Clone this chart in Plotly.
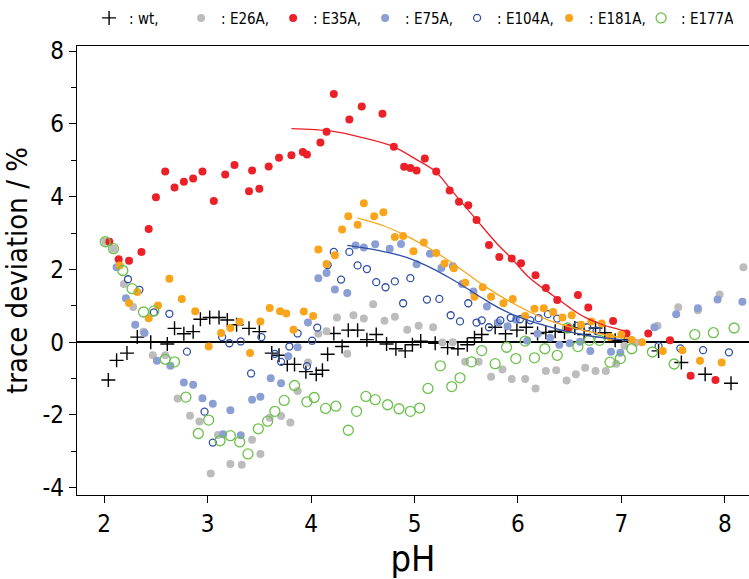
import plotly.graph_objects as go

# ---------------- data ----------------
wt_ph = [2.04,2.12,2.22,2.32,2.45,2.61,2.68,2.77,2.86,2.93,3.02,3.11,3.19,3.28,3.40,3.50,3.62,3.69,3.77,3.84,
         3.95,4.05,4.11,4.16,4.22,4.30,4.36,4.45,4.54,4.63,4.73,4.82,4.91,4.98,5.06,5.20,5.32,5.42,5.51,5.58,
         5.65,5.78,5.88,5.99,6.08,6.19,6.27,6.36,6.45,6.55,6.64,6.75,6.84,6.94,7.03,7.36,7.58,7.81,8.06]
wt_y = [-1.04,-0.50,-0.30,0.14,0.00,-0.05,0.38,0.23,0.29,0.63,0.68,0.68,0.61,0.48,0.38,0.29,-0.30,-0.36,-0.61,-0.61,
        -0.81,-0.88,-0.77,-0.33,0.24,-0.12,0.33,0.33,0.07,0.21,-0.05,-0.18,-0.24,-0.07,0.03,-0.03,-0.15,-0.18,-0.07,0.12,
        0.21,0.41,0.23,0.33,0.41,0.24,0.27,0.30,0.27,0.39,0.21,0.39,0.26,0.05,0.07,-0.24,-0.56,-0.88,-1.13]

e26_ph = [2.01,2.09,2.19,2.28,2.38,2.47,2.59,2.71,2.83,2.92,3.03,3.10,3.22,3.33,3.43,3.51,3.60,3.71,3.80,3.87,
          3.97,4.07,4.15,4.25,4.35,4.41,4.51,4.60,4.71,4.81,4.93,5.04,5.18,5.27,5.37,5.49,5.62,5.74,5.85,5.94,
          6.07,6.17,6.27,6.37,6.47,6.56,6.65,6.75,6.85,6.95,7.03,7.14,7.35,7.55,7.74,7.95,8.18]
e26_y = [2.76,2.57,1.60,0.97,0.29,-0.36,-0.36,-1.55,-2.02,-2.18,-3.61,-2.55,-3.35,-3.37,-2.68,-3.07,-2.08,-2.03,-2.21,-1.34,
         -0.56,0.23,0.30,0.68,-0.32,0.74,0.65,1.04,0.59,0.70,0.34,0.45,0.41,-0.01,0.00,-0.54,-0.54,-0.95,-0.75,-1.01,
         -1.01,-1.27,-0.79,-0.77,-1.05,-0.88,-0.70,-0.79,-0.79,-0.59,-0.10,-0.01,0.45,0.96,0.88,1.31,2.06]

e35_ph = [2.05,2.14,2.24,2.36,2.43,2.50,2.59,2.68,2.77,2.86,2.95,3.06,3.17,3.26,3.40,3.43,3.50,3.59,3.69,3.81,
          3.92,3.96,4.09,4.15,4.22,4.37,4.49,4.69,4.80,4.90,4.96,5.02,5.10,5.21,5.34,5.43,5.52,5.60,5.72,5.82,
          5.94,6.03,6.17,6.27,6.38,6.49,6.58,6.68,6.92,7.05,7.26,7.47,7.67,7.91]
e35_y = [2.76,2.28,2.24,2.48,3.11,3.98,4.69,4.25,4.41,4.50,4.69,3.88,4.61,4.87,4.15,4.72,4.22,4.83,5.07,5.14,
         5.23,5.16,5.49,5.78,6.82,6.12,6.48,6.28,5.37,4.82,4.79,4.72,5.05,4.69,4.17,3.86,3.76,3.36,2.67,2.34,
         2.30,2.17,1.84,1.49,1.16,0.39,1.30,0.95,0.58,0.24,0.24,0.05,-0.92,-1.04]

e75_ph = [2.12,2.21,2.30,2.39,2.51,2.64,2.77,2.86,2.95,3.05,3.15,3.22,3.32,3.43,3.51,3.61,3.71,3.78,3.87,3.97,
          4.07,4.15,4.23,4.35,4.43,4.51,4.62,4.76,4.87,5.02,5.15,5.26,5.37,5.46,5.57,5.70,5.81,5.90,5.98,6.09,
          6.19,6.31,6.40,6.50,6.60,6.70,6.90,6.99,7.32,7.53,7.74,7.93,8.17]
e75_y = [2.06,1.21,0.48,0.25,-0.51,-0.65,-1.11,-1.17,-1.54,-1.69,-2.53,-1.87,-2.56,-1.58,-1.50,-0.99,-1.13,-0.39,-0.14,0.54,
         1.76,1.90,1.45,1.35,2.66,2.60,2.69,2.57,2.70,2.14,2.43,2.04,2.09,1.60,1.39,0.98,0.54,0.44,0.62,0.04,
         0.23,0.12,-0.07,-0.03,0.01,-0.24,-0.26,-0.29,0.41,0.77,0.93,1.17,1.11]

e104_ph = [2.23,2.34,2.48,2.63,2.80,2.97,3.05,3.14,3.21,3.32,3.42,3.52,3.65,3.71,3.79,3.87,3.96,4.01,4.06,4.16,
           4.22,4.29,4.37,4.45,4.54,4.63,4.72,4.81,4.89,4.96,5.12,5.24,5.35,5.44,5.52,5.60,5.65,5.72,5.83,5.93,
           6.02,6.12,6.20,6.29,6.38,6.57,6.67,6.76,7.36,7.57,7.79,8.04]
e104_y = [1.73,1.44,0.82,0.78,-0.26,-1.91,-2.76,0.14,-0.03,0.02,-0.86,0.14,-0.32,-0.54,-0.12,0.24,-0.66,0.04,0.40,2.12,
          2.48,1.72,2.48,2.11,2.01,1.65,1.51,1.67,1.07,1.76,1.17,1.19,0.74,0.57,1.07,0.54,0.60,0.41,0.60,0.67,
          0.63,0.60,0.66,0.77,0.65,0.45,0.41,0.32,-0.11,-0.17,-0.22,-0.28]

e181_ph = [2.15,2.24,2.32,2.43,2.52,2.63,2.75,2.88,3.01,3.13,3.22,3.31,3.41,3.51,3.60,3.70,3.76,3.83,3.93,4.02,
           4.07,4.15,4.23,4.30,4.36,4.45,4.51,4.61,4.70,4.81,4.89,4.99,5.09,5.21,5.29,5.38,5.49,5.58,5.66,5.74,
           5.86,5.95,6.07,6.16,6.25,6.34,6.43,6.52,6.61,6.71,6.81,6.89,7.00,7.10,7.20,7.40,7.59,7.76,7.97]
e181_y = [2.11,1.08,1.38,0.66,1.01,1.74,1.19,0.85,-0.12,0.25,0.39,0.56,-0.30,0.57,0.94,0.85,0.79,0.34,0.84,0.72,
          2.55,2.15,2.39,3.10,3.46,3.23,3.82,3.46,3.57,2.89,2.92,2.50,2.74,2.45,2.16,2.03,1.63,1.25,1.51,1.25,
          1.07,1.19,0.72,0.92,0.93,0.83,0.68,0.74,0.48,0.57,0.51,0.14,0.21,0.06,0.00,-0.24,-0.22,-0.51,-0.56]

e177_ph = [2.01,2.09,2.18,2.27,2.38,2.48,2.59,2.68,2.79,2.91,3.01,3.12,3.22,3.31,3.39,3.49,3.58,3.65,3.74,3.84,
           3.96,4.03,4.14,4.24,4.36,4.44,4.53,4.62,4.74,4.85,4.96,5.05,5.13,5.25,5.36,5.44,5.55,5.65,5.78,5.89,
           5.98,6.07,6.16,6.26,6.38,6.48,6.58,6.69,6.79,6.89,6.99,7.10,7.30,7.51,7.71,7.89,8.09]
e177_y = [2.76,2.57,1.97,1.47,0.83,0.86,-0.47,-0.54,-1.51,-2.51,-2.14,-2.71,-2.57,-2.74,-3.07,-2.38,-2.17,-1.90,-1.60,-1.19,
          -1.64,-1.52,-1.82,-1.76,-2.42,-1.90,-1.49,-1.58,-1.72,-1.83,-1.90,-1.81,-1.27,-0.65,-1.22,-0.98,-0.54,-0.23,-0.59,-0.14,
          -0.45,0.03,-0.43,-0.18,-0.36,0.39,-0.12,0.05,0.05,-0.55,-0.45,-0.18,-0.27,-0.60,0.21,0.26,0.39]

# fitted curves
fit35_ph = [3.81,4.2,4.5,4.8,5.0,5.2,5.35,5.6,5.8,5.94,6.1,6.33,6.5,6.65,6.8,6.95,7.05]
fit35_y = [5.87,5.80,5.62,5.37,5.05,4.70,4.20,3.36,2.70,2.30,1.80,1.30,0.95,0.68,0.50,0.37,0.30]
fit181_ph = [4.45,4.7,4.9,5.1,5.3,5.5,5.7,5.9,6.1,6.3,6.5,6.7,6.9,7.07]
fit181_y = [3.41,3.20,2.95,2.65,2.30,1.90,1.50,1.15,0.85,0.60,0.42,0.28,0.17,0.10]
fit75_ph = [4.35,4.6,4.85,5.0,5.17,5.35,5.5,5.65,5.81,6.0,6.15,6.3,6.5,6.7,6.9,7.07]
fit75_y = [2.66,2.55,2.39,2.25,2.03,1.75,1.49,1.22,0.95,0.70,0.55,0.43,0.28,0.17,0.10,0.05]

x_ticks = [2, 3, 4, 5, 6, 7, 8]
y_ticks = [-4, -2, 0, 2, 4, 6, 8]
y_tick_labels = ["-4", "-2", "0", "2", "4", "6", "8"]
y_minor_ticks = [-3, -1, 1, 3, 5, 7]

# ---------------- styles ----------------
RED = "#ec2027"
GRAY = "#bcbcbc"
LBLUE = "#8b9fd5"
DBLUE = "#2f4fa8"
ORANGE = "#f8a51b"
GREEN = "#6cc14b"
FONT = "Liberation Sans Narrow, DejaVu Sans Condensed, Arial Narrow, sans-serif"

fig = go.Figure()

def dots(x, y, name, sym, color, size, lw=0, fill=None):
    fig.add_trace(go.Scatter(
        x=x, y=y, mode="markers", name=name,
        marker=dict(symbol=sym, size=size, color=fill if fill else color,
                    line=dict(color=color, width=lw)),
    ))

dots(wt_ph, wt_y, ": wt,", "cross-thin", "black", 10, lw=1.4)
dots(e26_ph, e26_y, ": E26A,", "circle", GRAY, 8)
dots(e35_ph, e35_y, ": E35A,", "circle", RED, 8)
dots(e75_ph, e75_y, ": E75A,", "circle", LBLUE, 8)
dots(e104_ph, e104_y, ": E104A,", "circle-open", DBLUE, 7, lw=1.3)
dots(e181_ph, e181_y, ": E181A,", "circle", ORANGE, 8)
dots(e177_ph, e177_y, ": E177A", "circle-open", GREEN, 10, lw=1.3)

for fx, fy, c in [(fit35_ph, fit35_y, RED), (fit181_ph, fit181_y, ORANGE), (fit75_ph, fit75_y, DBLUE)]:
    fig.add_trace(go.Scatter(x=fx, y=fy, mode="lines", showlegend=False,
                             line=dict(color=c, width=1.3, shape="spline", smoothing=1.0)))

fig.update_layout(
    width=749, height=579,
    margin=dict(l=77, r=0, t=46, b=80),
    paper_bgcolor="white", plot_bgcolor="white",
    font=dict(family=FONT, color="black"),
    showlegend=True,
    legend=dict(orientation="h", x=0.018, y=1.062, xanchor="left", yanchor="middle",
                font=dict(size=15, family=FONT), itemwidth=30, tracegroupgap=0,
                entrywidth=47, entrywidthmode="pixels",
                bgcolor="rgba(0,0,0,0)"),
    xaxis=dict(range=[1.737, 8.234], tickvals=x_ticks, ticks="outside", ticklen=7, tickwidth=1,
               tickcolor="black", showline=True, linecolor="black", linewidth=1.2, mirror=True,
               showgrid=False, zeroline=False, tickfont=dict(size=24, family=FONT),
               title=dict(text="pH", font=dict(size=36, family=FONT), standoff=16)),
    yaxis=dict(range=[-4.2, 8.14], tickvals=y_ticks, ticktext=y_tick_labels, ticks="outside",
               ticklen=7, tickwidth=1,
               tickcolor="black", showline=True, linecolor="black", linewidth=1.2,
               showgrid=False, zeroline=True, zerolinecolor="black", zerolinewidth=1.5,
               tickfont=dict(size=24, family=FONT),
               minor=dict(tickvals=y_minor_ticks, ticks="outside", ticklen=5, tickcolor="black"),
               title=dict(text="trace deviation / %", font=dict(size=29, family=FONT), standoff=6)),
)

fig.write_html("out.html")
